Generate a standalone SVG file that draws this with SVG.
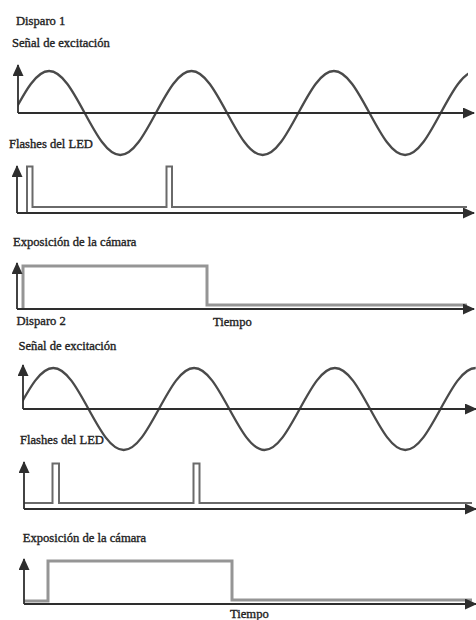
<svg xmlns="http://www.w3.org/2000/svg" width="476" height="620" viewBox="0 0 476 620">
  <style>
    .lbl { font-family: "Liberation Serif", "Times New Roman", serif; font-size: 12.6px; fill: #222; stroke: #222; stroke-width: 0.35px; }
    .axis { fill: none; stroke: #2e2e2e; stroke-width: 1.8; }
    .sine { fill: none; stroke: #4a4a4a; stroke-width: 2.3; stroke-linejoin: round; }
    .led { fill: none; stroke: #6a6a6a; stroke-width: 2; }
    .exp { fill: none; stroke: #959595; stroke-width: 3; }
  </style>
  <defs>
    <marker id="arr" markerUnits="userSpaceOnUse" markerWidth="12" markerHeight="11" refX="11" refY="5.5" orient="auto">
      <path d="M0,0 L12,5.5 L0,11 z" fill="#2e2e2e"/>
    </marker>
    <clipPath id="c1"><rect x="18" y="50" width="450" height="120"/></clipPath>
    <clipPath id="c2"><rect x="23" y="350" width="453" height="120"/></clipPath>
  </defs>
  <rect width="476" height="620" fill="#ffffff"/>

  <g id="disparo1">
    <text class="lbl" x="16" y="25">Disparo 1</text>
    <g id="senal1">
      <text class="lbl" x="12" y="47">Señal de excitación</text>
      <path class="sine" clip-path="url(#c1)" d="M13.5,113 c11.61,-21.5 22.71,-42 35.6,-42 s23.99,20.5 35.6,42 s22.71,42 35.6,42 s23.99,-20.5 35.6,-42 s22.71,-42 35.6,-42 s23.99,20.5 35.6,42 s22.71,42 35.6,42 s23.99,-20.5 35.6,-42 s22.71,-42 35.6,-42 s23.99,20.5 35.6,42 s22.71,42 35.6,42 s23.99,-20.5 35.6,-42 s22.71,-42 35.6,-42"/>
    </g>
    <g id="led1">
      <text class="lbl" x="9" y="148">Flashes del LED</text>
      <path class="led" d="M27,213 V166.5 H32.5 V207 H166.5 V166.5 H172 V207 H467"/>
    </g>
    <g id="exp1">
      <text class="lbl" x="13" y="245.5">Exposición de la cámara</text>
      <path class="exp" d="M23,309 V266 H207 V305 H467"/>
    </g>
    <text class="lbl" x="213" y="325.5">Tiempo</text>
  </g>

  <g id="disparo2">
    <text class="lbl" x="16.5" y="325">Disparo 2</text>
    <g id="senal2">
      <text class="lbl" x="18.5" y="350">Señal de excitación</text>
      <path class="sine" clip-path="url(#c2)" d="M18.1,409 c11.48,-21 22.46,-41 35.2,-41 s23.72,20 35.2,41 s22.46,41 35.2,41 s23.72,-20 35.2,-41 s22.46,-41 35.2,-41 s23.72,20 35.2,41 s22.46,41 35.2,41 s23.72,-20 35.2,-41 s22.46,-41 35.2,-41 s23.72,20 35.2,41 s22.46,41 35.2,41 s23.72,-20 35.2,-41 s22.46,-41 35.2,-41"/>
    </g>
    <g id="led2">
      <text class="lbl" x="20" y="443.5">Flashes del LED</text>
      <path class="led" d="M24,503 H52.5 V463.5 H59 V503 H193.5 V463.5 H199.5 V503 H472"/>
    </g>
    <g id="exp2">
      <text class="lbl" x="22.7" y="541.7">Exposición de la cámara</text>
      <path class="exp" d="M24,601 H48 V561 H232 V600 H472"/>
    </g>
    <text class="lbl" x="230" y="618">Tiempo</text>
  </g>

  <g id="connectors">
    <path class="axis" marker-end="url(#arr)" d="M18,113 V65"/>
    <path class="axis" marker-end="url(#arr)" d="M18,113 H474"/>
    <path class="axis" marker-end="url(#arr)" d="M17,213 V166"/>
    <path class="axis" marker-end="url(#arr)" d="M17,213 H474"/>
    <path class="axis" marker-end="url(#arr)" d="M17,309 V263"/>
    <path class="axis" marker-end="url(#arr)" d="M17,309 H474"/>
    <path class="axis" marker-end="url(#arr)" d="M23,409 V365"/>
    <path class="axis" marker-end="url(#arr)" d="M23,409 H476"/>
    <path class="axis" marker-end="url(#arr)" d="M24,509 V462"/>
    <path class="axis" marker-end="url(#arr)" d="M24,509 H476"/>
    <path class="axis" marker-end="url(#arr)" d="M24,604 V559"/>
    <path class="axis" marker-end="url(#arr)" d="M24,604 H476"/>
  </g>
</svg>
